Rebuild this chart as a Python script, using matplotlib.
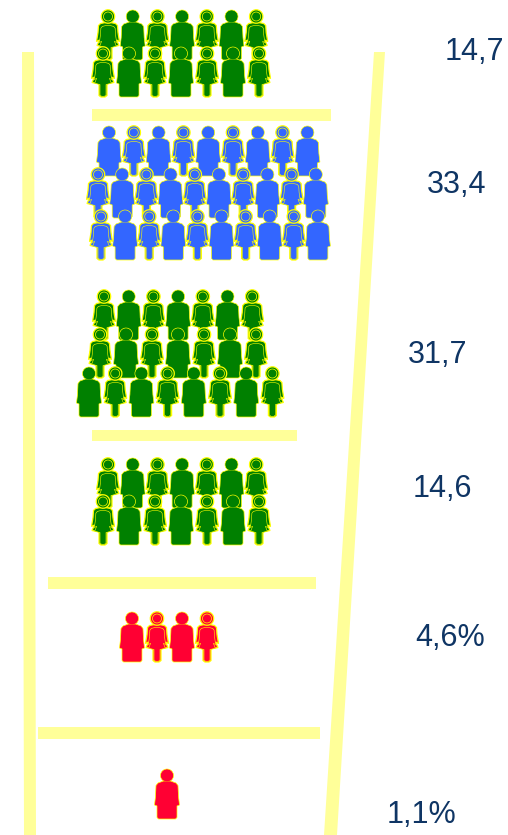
import numpy as np
import matplotlib
matplotlib.use('Agg')
import matplotlib.pyplot as plt
from matplotlib.path import Path
from matplotlib.patches import PathPatch, Polygon

# one label per group, top to bottom
labels = ['14,7', '33,4', '31,7', '14,6', '4,6%', '1,1%']
group_colors = ['#008000', '#3366FF', '#008000', '#008000', '#FF0033', '#FF0033']
# people in every row of each group
row_counts = [[7, 7], [9, 10, 10], [7, 7, 8], [7, 7], [4], [1]]
# first figure of the row: 'w' or 'm', then they alternate
row_first = [['w', 'w'], ['m', 'w', 'w'], ['w', 'w', 'm'], ['w', 'w'], ['m'], ['m']]

# layout in pixels: first x, step, top y for each row
row_layout = [
    [(108, 24.7, 10), (103, 26, 47)],
    [(109, 24.8, 126), (98, 24.2, 168), (101, 24.1, 210)],
    [(104, 24.7, 290), (100, 26, 328), (89, 26.2, 367)],
    [(108, 24.7, 458), (103, 26, 495)],
    [(132, 25, 612)],
    [(167, 25, 769)],
]
label_pos = [(445, 52), (427, 185), (408, 355), (413, 489), (415, 638), (387, 815)]
rungs = [(92, 331, 109, 121), (92, 297, 430, 441), (48, 316, 577, 589), (38, 320, 727, 739)]

RAIL = '#FFFF99'
TEXT = '#0F3564'
EDGE = '#FFFF00'
H = 50.0


def head(cx, cy, r, n=24):
    a = np.linspace(0, 2 * np.pi, n)
    return np.c_[cx + r * np.cos(a), cy + r * np.sin(a)]


# half outlines, (half width, y) in fractions of height
MAN = [(0.07, 0.24), (0.18, 0.28), (0.22, 0.33), (0.23, 0.55), (0.25, 0.72), (0.20, 0.74),
       (0.20, 0.97), (0.17, 1.0), (0, 1.0)]
WOMAN = [(0.05, 0.25), (0.15, 0.27), (0.19, 0.31), (0.20, 0.45), (0.23, 0.63), (0.17, 0.60),
         (0.22, 0.71), (0.08, 0.74), (0.08, 0.97), (0.04, 1.0), (0, 1.0)]


def body(half):
    half = np.array(half)
    right = half.copy()
    left = half[::-1].copy()
    left[:, 0] *= -1
    return np.vstack([right, left])


def draw_person(ax, kind, cx, top, color):
    if kind == 'm':
        pts = body(MAN)
        ax.add_patch(PathPatch(Path(head(0, 0.13, 0.13) * H + [cx, top]), fc=color, ec=EDGE, lw=0.5, zorder=3))
        ax.add_patch(Polygon(pts * H + [cx, top], closed=True, fc=color, ec=EDGE, lw=0.5, zorder=3))
        ax.add_patch(PathPatch(Path(head(0, 0.13, 0.115) * H + [cx, top]), fc=color, ec='none', zorder=3))
    else:
        pts = body(WOMAN)
        ax.add_patch(Polygon(pts * H + [cx, top], closed=True, fc=color, ec=EDGE, lw=0.9, zorder=3))
        ax.add_patch(PathPatch(Path(head(0, 0.13, 0.135) * H + [cx, top]), fc=color, ec=EDGE, lw=0.9, zorder=3))
        ax.add_patch(PathPatch(Path(head(0, 0.13, 0.09) * H + [cx, top]), fc=color, ec=EDGE, lw=0.5, zorder=3))
        inner = pts.copy()
        inner[:, 0] *= 0.75
        inner[:, 1] = 0.31 + (inner[:, 1] - 0.25) * 0.9
        ax.add_patch(Polygon(inner * H + [cx, top], closed=True, fc=color, ec=EDGE, lw=0.4, zorder=3))


fig = plt.figure(figsize=(5.08, 8.35), dpi=100)
ax = fig.add_axes([0, 0, 1, 1])
ax.set_xlim(0, 508)
ax.set_ylim(835, 0)
ax.axis('off')

# ladder
ax.add_patch(Polygon([(22, 52), (34, 52), (36, 835), (24, 835)], fc=RAIL, ec='none', zorder=1))
ax.add_patch(Polygon([(374, 52), (385, 52), (337, 835), (324, 835)], fc=RAIL, ec='none', zorder=1))
for x0, x1, y0, y1 in rungs:
    ax.fill_between([x0, x1], y0, y1, color=RAIL, lw=0, zorder=2)

for g, counts in enumerate(row_counts):
    for r, n in enumerate(counts):
        x0, step, top = row_layout[g][r]
        other = {'w': 'm', 'm': 'w'}[row_first[g][r]]
        for i in range(n):
            kind = row_first[g][r] if i % 2 == 0 else other
            draw_person(ax, kind, x0 + i * step, top, group_colors[g])

for lab, (x, y) in zip(labels, label_pos):
    ax.text(x, y, lab, ha='left', va='center', fontsize=22, color=TEXT, family='Liberation Sans')

fig.savefig('out.png', dpi=100)
